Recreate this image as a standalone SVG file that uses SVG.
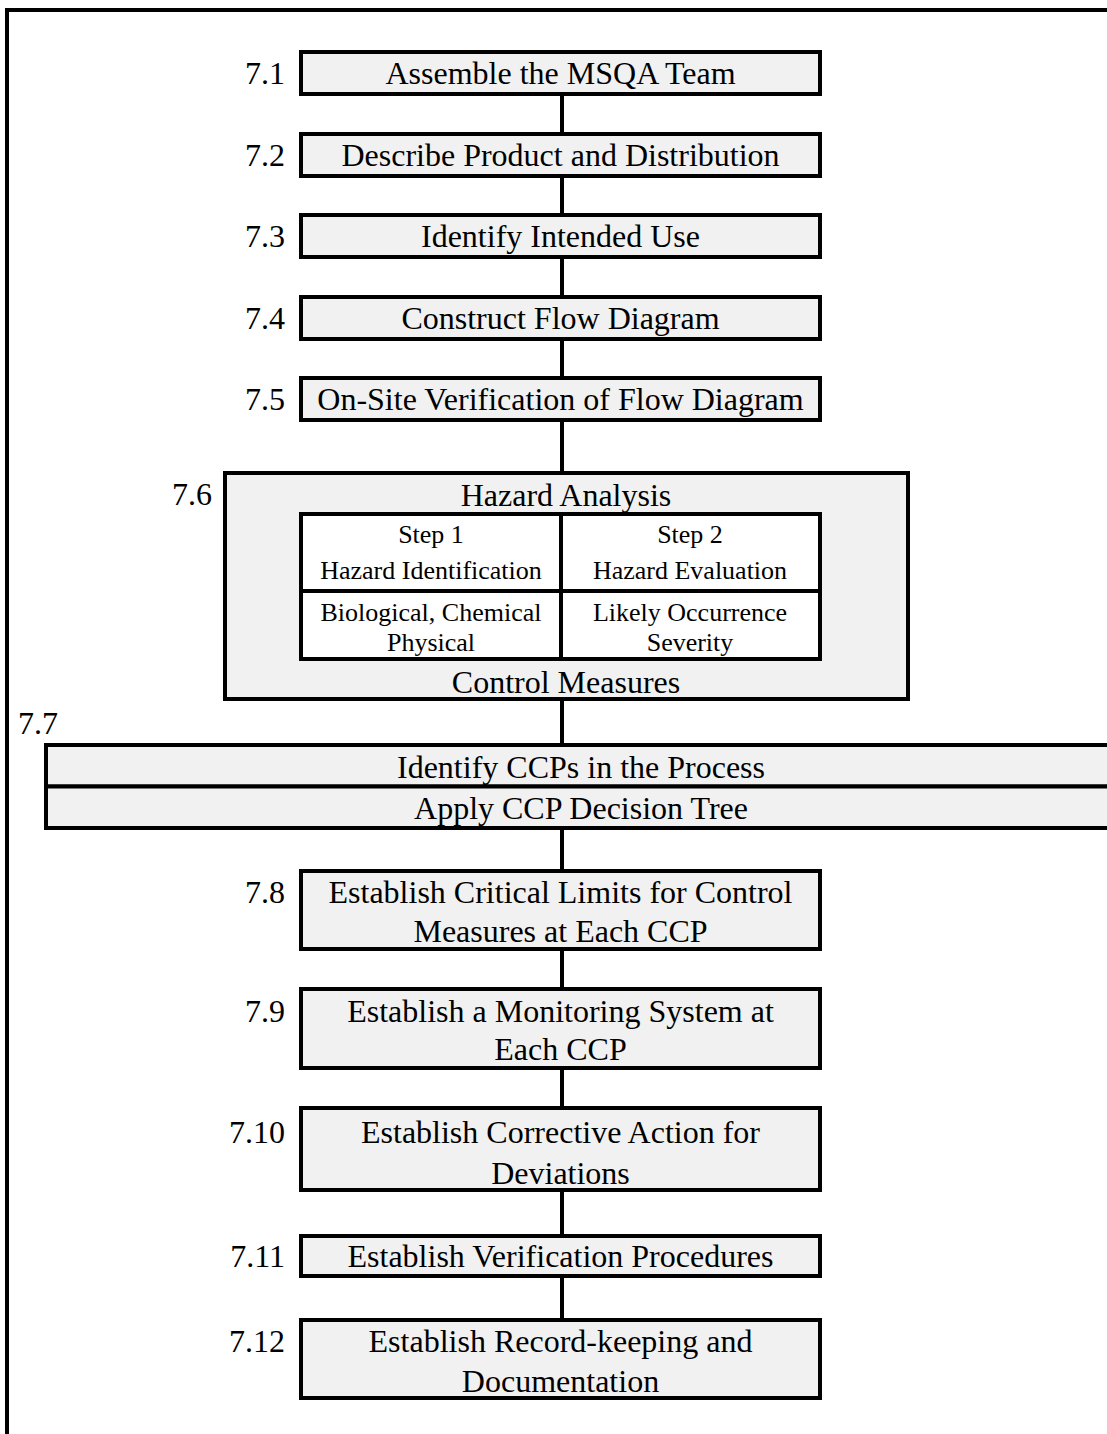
<svg xmlns="http://www.w3.org/2000/svg" width="1107" height="1434" viewBox="0 0 1107 1434">
  <style>
    .box { fill: #f1f1f1; stroke: #000; stroke-width: 4; }
    .cell { fill: #fff; stroke: #000; stroke-width: 4; }
    .t { font-family: "Liberation Serif", "Times New Roman", serif; font-size: 32px; fill: #000; text-anchor: middle; }
    .s { font-family: "Liberation Serif", "Times New Roman", serif; font-size: 26px; fill: #000; text-anchor: middle; }
    .num { font-family: "Liberation Serif", "Times New Roman", serif; font-size: 32px; fill: #000; text-anchor: end; }
    .wire { stroke: #000; stroke-width: 4; fill: none; }
  </style>

  <!-- page frame: top and left rules -->
  <path class="wire" d="M7 1434 V10 H1107"/>

  <!-- connectors between steps -->
  <g id="connectors">
    <line class="wire" x1="562" y1="94" x2="562" y2="134"/>
    <line class="wire" x1="562" y1="176" x2="562" y2="215"/>
    <line class="wire" x1="562" y1="257" x2="562" y2="297"/>
    <line class="wire" x1="562" y1="339" x2="562" y2="378"/>
    <line class="wire" x1="562" y1="420" x2="562" y2="473"/>
    <line class="wire" x1="562" y1="699" x2="562" y2="745"/>
    <line class="wire" x1="562" y1="828" x2="562" y2="871"/>
    <line class="wire" x1="562" y1="949" x2="562" y2="989"/>
    <line class="wire" x1="562" y1="1068" x2="562" y2="1108"/>
    <line class="wire" x1="562" y1="1190" x2="562" y2="1236"/>
    <line class="wire" x1="562" y1="1276" x2="562" y2="1320"/>
  </g>

  <g id="step-7-1">
    <rect class="box" x="301" y="52" width="519" height="42"/>
    <text class="num" x="285" y="84">7.1</text>
    <text class="t" x="560.5" y="84">Assemble the MSQA Team</text>
  </g>

  <g id="step-7-2">
    <rect class="box" x="301" y="134" width="519" height="42"/>
    <text class="num" x="285" y="166">7.2</text>
    <text class="t" x="560.5" y="166">Describe Product and Distribution</text>
  </g>

  <g id="step-7-3">
    <rect class="box" x="301" y="215" width="519" height="42"/>
    <text class="num" x="285" y="247">7.3</text>
    <text class="t" x="560.5" y="247">Identify Intended Use</text>
  </g>

  <g id="step-7-4">
    <rect class="box" x="301" y="297" width="519" height="42"/>
    <text class="num" x="285" y="329">7.4</text>
    <text class="t" x="560.5" y="329">Construct Flow Diagram</text>
  </g>

  <g id="step-7-5">
    <rect class="box" x="301" y="378" width="519" height="42"/>
    <text class="num" x="285" y="410">7.5</text>
    <text class="t" x="560.5" y="410">On-Site Verification of Flow Diagram</text>
  </g>

  <g id="step-7-6">
    <rect class="box" x="225" y="473" width="683" height="226"/>
    <text class="num" x="212" y="505">7.6</text>
    <text class="t" x="566" y="506">Hazard Analysis</text>
    <rect class="cell" x="301" y="514" width="519" height="145"/>
    <line class="wire" x1="561" y1="514" x2="561" y2="659"/>
    <line class="wire" x1="301" y1="591" x2="820" y2="591"/>
    <text class="s" x="431" y="543">Step 1</text>
    <text class="s" x="431" y="579">Hazard Identification</text>
    <text class="s" x="431" y="621">Biological, Chemical</text>
    <text class="s" x="431" y="651">Physical</text>
    <text class="s" x="690" y="543">Step 2</text>
    <text class="s" x="690" y="579">Hazard Evaluation</text>
    <text class="s" x="690" y="621">Likely Occurrence</text>
    <text class="s" x="690" y="651">Severity</text>
    <text class="t" x="566" y="693">Control Measures</text>
  </g>

  <g id="step-7-7">
    <text class="num" x="18" y="734" style="text-anchor:start">7.7</text>
    <rect class="box" x="46" y="745" width="1075" height="41.5"/>
    <rect class="box" x="46" y="786.5" width="1075" height="41.5"/>
    <text class="t" x="581" y="778">Identify CCPs in the Process</text>
    <text class="t" x="581" y="819">Apply CCP Decision Tree</text>
  </g>

  <g id="step-7-8">
    <rect class="box" x="301" y="871" width="519" height="78"/>
    <text class="num" x="285" y="903">7.8</text>
    <text class="t" x="560.5" y="903">Establish Critical Limits for Control</text>
    <text class="t" x="560.5" y="942">Measures at Each CCP</text>
  </g>

  <g id="step-7-9">
    <rect class="box" x="301" y="989" width="519" height="79"/>
    <text class="num" x="285" y="1022">7.9</text>
    <text class="t" x="560.5" y="1022">Establish a Monitoring System at</text>
    <text class="t" x="560.5" y="1060">Each CCP</text>
  </g>

  <g id="step-7-10">
    <rect class="box" x="301" y="1108" width="519" height="82"/>
    <text class="num" x="285" y="1143">7.10</text>
    <text class="t" x="560.5" y="1143">Establish Corrective Action for</text>
    <text class="t" x="560.5" y="1184">Deviations</text>
  </g>

  <g id="step-7-11">
    <rect class="box" x="301" y="1236" width="519" height="40"/>
    <text class="num" x="285" y="1267">7.11</text>
    <text class="t" x="560.5" y="1267">Establish Verification Procedures</text>
  </g>

  <g id="step-7-12">
    <rect class="box" x="301" y="1320" width="519" height="78"/>
    <text class="num" x="285" y="1352">7.12</text>
    <text class="t" x="560.5" y="1352">Establish Record-keeping and</text>
    <text class="t" x="560.5" y="1392">Documentation</text>
  </g>
</svg>
